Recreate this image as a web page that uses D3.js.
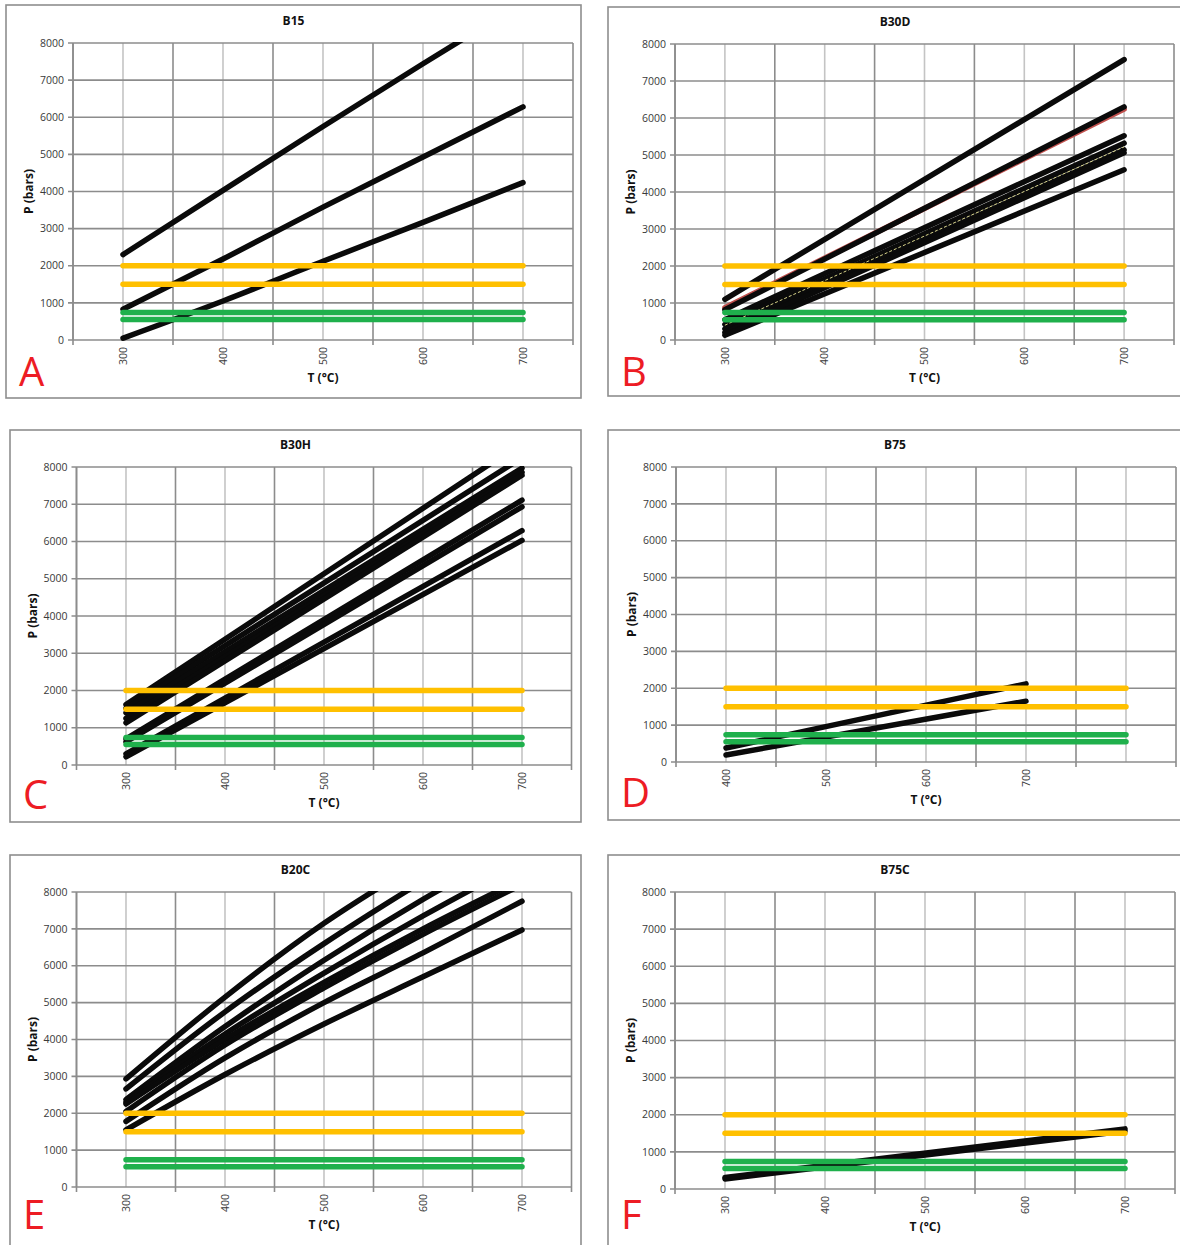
<!DOCTYPE html>
<html><head><meta charset="utf-8">
<script src="https://cdn.jsdelivr.net/npm/d3@7"></script>
<style>body{margin:0;background:#fff} svg{display:block}</style>
</head><body>
<svg id="c" width="1180" height="1245"></svg>
<script>
// ---------- data ----------
const refOrange = [2000, 1500];
const refGreen = [740, 550];
const yTicks = [0, 1000, 2000, 3000, 4000, 5000, 6000, 7000, 8000];
const xTicks300 = [300, 400, 500, 600, 700];
const xTicks400 = [400, 500, 600, 700];
const titles = ["B15", "B30D", "B30H", "B75", "B20C", "B75C"];
const letters = ["A", "B", "C", "D", "E", "F"];

// B15
const b15T = [300, 400, 500, 600, 700];
const b15P1 = [2300, 4030, 5750, 7440, 9100];
const b15P2 = [830, 2180, 3580, 4930, 6280];
const b15P3 = [50, 1050, 2120, 3170, 4240];

// B30D (straight lines: 300 and 700 °C)
const b30dT = [300, 700];
const b30dP1 = [1100, 7580];
const b30dRed = [870, 6240];
const b30dP2 = [820, 6300];
const b30dP3 = [550, 5520];
const b30dP4 = [420, 5320];
const b30dP5 = [300, 5140];
const b30dP6 = [200, 5060];
const b30dP7 = [130, 4600];
const b30dDotted = [400, 5220];

// B30H (straight lines: 300 and 700 °C)
const b30hT = [300, 700];
const b30hP1 = [1620, 8650];
const b30hP2 = [1520, 8250];
const b30hP3 = [1400, 7970];
const b30hP4 = [1250, 7860];
const b30hP5 = [1130, 7780];
const b30hP6 = [700, 7110];
const b30hP7 = [620, 6930];
const b30hP8 = [300, 6290];
const b30hP9 = [220, 6030];

// B75 (400 and 700 °C)
const b75T = [400, 700];
const b75P1 = [380, 2120];
const b75P2 = [190, 1650];

// B20C
const b20cT = [300, 400, 500, 600, 700];
const b20cP1 = [2930, 5150, 7150, 8850, 10400];
const b20cP2 = [2660, 4750, 6600, 8300, 9900];
const b20cP3 = [2370, 4350, 6150, 7800, 9300];
const b20cP4 = [2300, 4150, 5800, 7350, 8800];
const b20cP5 = [2250, 4000, 5550, 7000, 8350];
const b20cP6 = [2050, 3850, 5400, 6850, 8200];
const b20cP7 = [1780, 3500, 5000, 6350, 7750];
const b20cP8 = [1550, 3050, 4420, 5700, 6970];

// B75C (300 and 700 °C)
const b75cT = [300, 700];
const b75cP1 = [270, 1560];
const b75cP2 = [310, 1620];

// ---------- layout ----------
const BLACK = "#0a0a0a";
const panels = [
  {box:[6,5,575,393], x0:73, x1:573, y0:340, y1:43, xDom:[250,750], xt:xTicks300, ref:[300,700], lo:46,
   series:[[b15T,b15P1],[b15T,b15P2],[b15T,b15P3]].map(s=>({t:s[0],p:s[1]}))},
  {box:[608,7,580,389], x0:675, x1:1174, y0:340, y1:44, xDom:[250,750], xt:xTicks300, ref:[300,700], lo:46,
   series:[
     {t:b30dT,p:b30dP1},{t:b30dT,p:b30dRed,color:"#c0504d"},{t:b30dT,p:b30dP2},{t:b30dT,p:b30dP3},
     {t:b30dT,p:b30dP4},{t:b30dT,p:b30dP5},{t:b30dT,p:b30dP6},{t:b30dT,p:b30dP7},
     {t:b30dT,p:b30dDotted,color:"#d8d48a",width:1,dash:"3,2"}]},
  {box:[10,430,571,392], x0:76.5, x1:571.5, y0:765, y1:467, xDom:[250,750], xt:xTicks300, ref:[300,700], lo:44,
   series:[b30hP1,b30hP2,b30hP3,b30hP4,b30hP5,b30hP6,b30hP7,b30hP8,b30hP9].map(p=>({t:b30hT,p:p}))},
  {box:[608,430,580,390], x0:676, x1:1176, y0:762, y1:467, xDom:[350,850], xt:xTicks400, ref:[400,800], lo:45,
   series:[b75P1,b75P2].map(p=>({t:b75T,p:p}))},
  {box:[10,855,571,400], x0:76.5, x1:571.5, y0:1187, y1:892, xDom:[250,750], xt:xTicks300, ref:[300,700], lo:42,
   series:[b20cP1,b20cP2,b20cP3,b20cP4,b20cP5,b20cP6,b20cP7,b20cP8].map(p=>({t:b20cT,p:p}))},
  {box:[608,855,580,400], x0:675, x1:1175, y0:1189, y1:892, xDom:[250,750], xt:xTicks300, ref:[300,700], lo:40,
   series:[b75cP1,b75cP2].map(p=>({t:b75cT,p:p}))}
];

const svg = d3.select("#c");
const FONT = "'Open Sans','Noto Sans',Arial,sans-serif";

panels.forEach((P, i) => {
  const g = svg.append("g");
  g.append("rect").attr("x",P.box[0]).attr("y",P.box[1]).attr("width",P.box[2]).attr("height",P.box[3])
    .attr("fill","#fff").attr("stroke","#8e8e8e").attr("stroke-width",1.6);

  const x = d3.scaleLinear().domain(P.xDom).range([P.x0, P.x1]);
  const y = d3.scaleLinear().domain([0, 8000]).range([P.y0, P.y1]);

  // vertical gridlines every 50
  const vgrid = d3.range(P.xDom[0], P.xDom[1] + 1, 50);
  const isLabel = v => P.xt.includes(v) || ((v - P.xt[0]) % 100 === 0);
  g.append("g").selectAll("line").data(vgrid).join("line")
    .attr("x1", d => x(d)).attr("x2", d => x(d)).attr("y1", y(0)).attr("y2", y(8000))
    .attr("stroke", d => isLabel(d) ? "#c4c4c4" : "#8c8c8c").attr("stroke-width", 1.6);
  // bottom tick marks at darker lines
  g.append("g").selectAll("line").data(vgrid.filter(v => !isLabel(v))).join("line")
    .attr("x1", d => x(d)).attr("x2", d => x(d)).attr("y1", y(0)).attr("y2", y(0) + 5)
    .attr("stroke", "#8c8c8c").attr("stroke-width", 1.6);
  // horizontal gridlines
  g.append("g").selectAll("line").data(yTicks).join("line")
    .attr("x1", P.x0 - 5).attr("x2", P.x1).attr("y1", d => y(d)).attr("y2", d => y(d))
    .attr("stroke", "#8c8c8c").attr("stroke-width", 1.6);
  // left axis
  g.append("line").attr("x1",P.x0).attr("x2",P.x0).attr("y1",y(0)).attr("y2",y(8000))
    .attr("stroke","#8c8c8c").attr("stroke-width",1.6);

  // y tick labels
  g.append("g").selectAll("text").data(yTicks).join("text")
    .attr("x", P.x0 - 9).attr("y", d => y(d)).attr("dy","0.35em").attr("text-anchor","end")
    .attr("font-family", FONT).attr("font-size", 10.5).attr("fill", "#3a3a3a").text(d => d);
  // x tick labels (rotated)
  g.append("g").selectAll("text").data(P.xt).join("text")
    .attr("transform", d => `translate(${x(d)},${y(0) + 7}) rotate(-90)`)
    .attr("dy","0.35em").attr("text-anchor","end")
    .attr("font-family", FONT).attr("font-size", 10.5).attr("fill", "#3a3a3a").text(d => d);

  // clip
  const cid = "clip" + i;
  svg.append("clipPath").attr("id", cid).append("rect")
    .attr("x", P.x0).attr("y", y(8000) - 1).attr("width", P.x1 - P.x0).attr("height", y(0) - y(8000) + 4);
  const lg = g.append("g").attr("clip-path", `url(#${cid})`);

  const line = d3.line().x(d => x(d[0])).y(d => y(d[1])).curve(d3.curveMonotoneX);
  P.series.forEach(s => {
    const pts = s.t.map((t, k) => [t, s.p[k]]);
    lg.append("path").attr("d", line(pts)).attr("fill","none")
      .attr("stroke", s.color || BLACK).attr("stroke-width", s.width || 5.5)
      .attr("stroke-linecap", s.dash ? "butt" : "round").attr("stroke-linejoin","round")
      .attr("stroke-dasharray", s.dash || null);
  });
  // reference lines
  const refs = refOrange.map(v => ({v, c:"#ffc000"})).concat(refGreen.map(v => ({v, c:"#1fb04c"})));
  lg.append("g").selectAll("line").data(refs).join("line")
    .attr("x1", x(P.ref[0])).attr("x2", x(P.ref[1])).attr("y1", d => y(d.v)).attr("y2", d => y(d.v))
    .attr("stroke", d => d.c).attr("stroke-width", 5.5).attr("stroke-linecap","round");

  // titles
  g.append("text").attr("x", (P.box[0] + Math.min(P.box[0]+P.box[2],1182)) / 2).attr("y", y(8000) - 18)
    .attr("text-anchor","middle").attr("font-family", FONT).attr("font-size", 12).attr("font-weight", "bold")
    .attr("fill","#111").text(titles[i]);
  g.append("text").attr("transform", `translate(${P.x0 - 40},${(y(0) + y(8000)) / 2}) rotate(-90)`)
    .attr("text-anchor","middle").attr("font-family", FONT).attr("font-size", 12).attr("font-weight","bold")
    .attr("fill","#111").text("P (bars)");
  g.append("text").attr("x", (P.x0 + P.x1) / 2).attr("y", y(0) + 42)
    .attr("text-anchor","middle").attr("font-family", FONT).attr("font-size", 12).attr("font-weight","bold")
    .attr("fill","#111").text("T (°C)");
  g.append("text").attr("x", P.box[0] + 13).attr("y", y(0) + P.lo)
    .attr("font-family", FONT).attr("font-size", 40).attr("fill","#ed1c24").text(letters[i]);
});
</script>
</body></html>
